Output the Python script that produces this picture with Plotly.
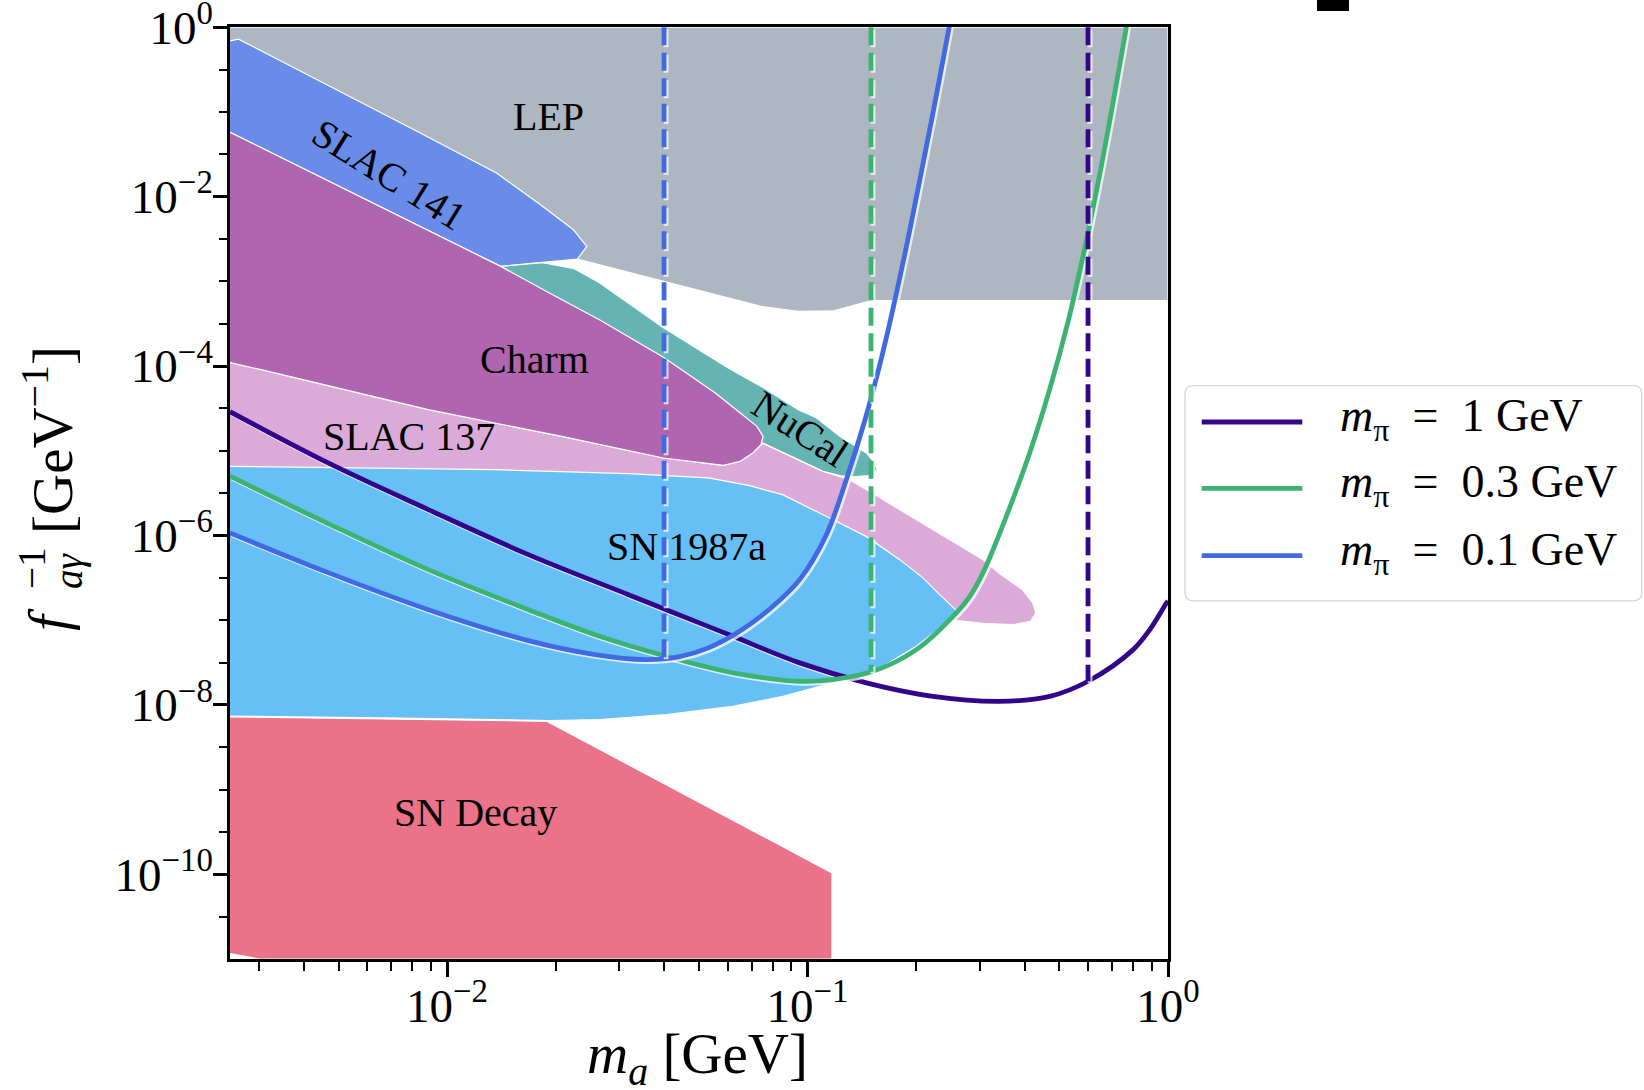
import numpy as np
import plotly.graph_objects as go

FONT = "Liberation Serif"

# ---------------------------------------------------------------------------
# Excluded regions in the (m_a [GeV], f_{a gamma}^{-1} [GeV^-1]) plane,
# each traced as a closed outline.
# ---------------------------------------------------------------------------
lep_m = [2.5e-3, 1.0, 1.0, 0.150, 0.1182, 0.0943, 0.0743, 0.0230, 2.5e-3]
lep_g = [1.0, 1.0, 5.9e-4, 5.9e-4, 4.49e-4, 4.41e-4, 5.05e-4, 1.83e-3, 1.83e-3]

slac141_m = [2.5e-3, 2.64e-3, 8.43e-3, 1.375e-2, 1.844e-2, 2.242e-2, 2.443e-2,
             2.30e-2, 1.409e-2, 2.5e-3]
slac141_g = [0.69, 0.722, 0.0562, 0.0189, 7.64e-3, 4.06e-3, 2.58e-3,
             1.83e-3, 1.50e-3, 0.0575]

slac137_m = [2.5e-3, 3.05e-3, 8.87e-3, 0.0208, 0.03985, 0.0585, 0.0705, 0.0752,
             0.1105, 0.1309, 0.1619, 0.2004, 0.2480, 0.3069, 0.3415, 0.3945,
             0.4216, 0.4295, 0.4160, 0.3741, 0.3108, 0.2610, 2.5e-3]
slac137_g = [1.10e-4, 9.05e-5, 3.05e-5, 1.48e-5, 8.21e-6, 6.72e-6, 9.41e-6, 1.23e-5,
             5.71e-6, 4.55e-6, 2.65e-6, 1.54e-6, 8.92e-7, 5.18e-7, 3.54e-7, 2.29e-7,
             1.60e-7, 1.22e-7, 9.69e-8, 8.86e-8, 9.11e-8, 9.88e-8, 4.55e-6]

nucal_m = [0.01409, 0.01844, 0.02256, 0.02647, 0.03985, 0.0601, 0.0763, 0.0943,
           0.1058, 0.1229, 0.1456, 0.1536, 0.1561, 0.1480, 0.1332, 0.1229,
           0.1105, 0.0752]
nucal_g = [1.50e-3, 1.66e-3, 1.41e-3, 9.61e-4, 2.83e-4, 9.55e-5, 5.40e-5, 3.05e-5,
           2.45e-5, 1.48e-5, 9.41e-6, 7.17e-6, 5.98e-6, 5.08e-6, 4.90e-6, 5.08e-6,
           5.71e-6, 1.23e-5]

charm_m = [2.5e-3, 0.01409, 0.01923, 0.02647, 0.03985, 0.0555, 0.0651, 0.0724,
           0.0753, 0.0743, 0.0705, 0.0651, 0.0585, 0.03985, 0.0208, 8.87e-3,
           3.05e-3, 2.5e-3]
charm_g = [0.0575, 1.50e-3, 7.27e-4, 3.52e-4, 1.27e-4, 4.80e-5, 2.79e-5, 1.94e-5,
           1.48e-5, 1.18e-5, 9.41e-6, 7.49e-6, 6.72e-6, 8.21e-6, 1.48e-5, 3.05e-5,
           9.05e-5, 1.10e-4]

sn1987a_m = [2.5e-3, 5.79e-3, 0.01359, 0.03186, 0.0531, 0.0691, 0.0853, 0.1174,
             0.1459, 0.1802, 0.2087, 0.2326, 0.2610, 0.2428, 0.2004, 0.1619,
             0.1176, 0.0855, 0.0621, 0.04055, 0.02647, 0.01923, 7.37e-3, 2.5e-3]
sn1987a_g = [6.54e-6, 6.26e-6, 5.98e-6, 5.36e-6, 4.77e-6, 3.87e-6, 3.03e-6, 1.54e-6,
             9.68e-7, 5.18e-7, 3.18e-7, 2.00e-7, 1.26e-7, 9.28e-8, 4.91e-8, 2.85e-8,
             1.82e-8, 1.26e-8, 9.63e-9, 7.68e-9, 6.71e-9, 6.53e-9, 6.99e-9, 7.38e-9]

sndecay_m = [2.5e-3, 0.0189, 0.1169, 0.1169, 3.01e-3, 2.5e-3]
sndecay_g = [7.22e-9, 6.40e-9, 1.04e-10, 1e-11, 1e-11, 1.16e-11]

# ---------------------------------------------------------------------------
# Projected reach for three pion masses
# ---------------------------------------------------------------------------
reach_1_m = [2.5e-3, 4.68e-3, 8.87e-3, 0.01681, 0.03186, 0.04055, 0.0621, 0.0951,
             0.1456, 0.2229, 0.3415, 0.4700, 0.6003, 0.8006, 0.8906, 0.991, 1.0]
reach_1_g = [2.89e-5, 7.17e-6, 2.02e-6, 5.94e-7, 2.00e-7, 1.33e-7, 6.45e-8, 3.13e-8,
             1.82e-8, 1.26e-8, 1.10e-8, 1.26e-8, 1.90e-8, 4.49e-8, 7.74e-8, 1.60e-7,
             1.68e-7]

reach_03_m = [2.5e-3, 4.68e-3, 8.87e-3, 0.01681, 0.02647, 0.04055, 0.0621,
              0.0951, 0.1176, 0.1519, 0.2004, 0.2588, 0.2818, 0.3069, 0.3487,
              0.4133, 0.4722, 0.5297, 0.5837, 0.6368, 0.6902, 0.7665, 0.7745]
reach_03_g = [5.01e-6, 1.38e-6, 3.95e-7, 1.33e-7, 6.45e-8, 3.75e-8, 2.39e-8,
              1.90e-8, 1.99e-8, 2.49e-8, 4.49e-8, 1.22e-7, 1.90e-7, 3.64e-7, 1.34e-6,
              9.41e-6, 5.74e-5, 3.52e-4, 2.15e-3, 0.01316, 0.0806, 1.0, 1.26]

reach_01_m = [2.5e-3, 4.68e-3, 8.87e-3, 0.01681, 0.02576, 0.03545, 0.04386, 0.0531,
              0.0648, 0.0802, 0.0951, 0.1128, 0.1281, 0.1444, 0.1574, 0.1699,
              0.1864, 0.2015, 0.2210, 0.2472, 0.2496]
reach_01_g = [1.07e-6, 3.64e-7, 1.33e-7, 5.74e-8, 3.92e-8, 3.42e-8, 3.68e-8, 4.71e-8,
              7.39e-8, 1.46e-7, 3.01e-7, 1.02e-6, 4.55e-6, 2.32e-5, 9.05e-5, 3.52e-4,
              2.15e-3, 0.0110, 0.0806, 1.0, 1.26]

pion_masses = ["1", "0.3", "0.1"]
reach_colors = ["#33058a", "#3cb371", "#4169e1"]
threshold_m = [0.6, 0.15, 0.04]          # vertical dashed kinematic limits
reach_m = [reach_1_m, reach_03_m, reach_01_m]
reach_g = [reach_1_g, reach_03_g, reach_01_g]

# Region labels
label_text = ["LEP", "SLAC 141", "Charm", "NuCal", "SLAC 137", "SN 1987a", "SN Decay"]
label_m = [0.0191, 6.89e-3, 0.01747, 0.0951, 7.85e-3, 0.04614, 0.01198]
label_g = [0.0881, 0.0181, 1.19e-4, 1.82e-5, 1.48e-5, 7.44e-7, 5.36e-10]
label_angle = [0, 32, 0, 33, 0, 0, 0]

# Axis ticks
x_tick_vals = [1e-2, 1e-1, 1.0]
x_tick_text = ["10<sup>−2</sup>", "10<sup>−1</sup>", "10<sup>0</sup>"]
y_tick_vals = [1.0, 1e-2, 1e-4, 1e-6, 1e-8, 1e-10]
y_tick_text = ["10<sup>0</sup>", "10<sup>−2</sup>", "10<sup>−4</sup>",
               "10<sup>−6</sup>", "10<sup>−8</sup>", "10<sup>−10</sup>"]

# ---------------------------------------------------------------------------
W, H = 1644, 1090
ML, MR, MT, MB = 230, 476, 27, 131
X_RANGE = [np.log10(2.5e-3), 0.0]
Y_RANGE = [-11.0, 0.002]
PX_PER_DEC_X = (W - ML - MR) / (X_RANGE[1] - X_RANGE[0])
PX_PER_DEC_Y = (H - MT - MB) / (Y_RANGE[1] - Y_RANGE[0])

# light offset stroke drawn under every line (2 px right, 2 px down)
SHADOW_X = 10 ** (2.0 / PX_PER_DEC_X)
SHADOW_Y = 10 ** (-2.0 / PX_PER_DEC_Y)
LW = 4.8

fig = go.Figure()

regions = [
    (lep_m, lep_g, "#adb6c1"),
    (slac141_m, slac141_g, "#688ce8"),
    (slac137_m, slac137_g, "#dcaad9"),
    (nucal_m, nucal_g, "#66b3b3"),
    (charm_m, charm_g, "#b065b0"),
    (sn1987a_m, sn1987a_g, "#67c0f5"),
    (sndecay_m, sndecay_g, "#ea7289"),
]
for m, g, col in regions:
    fig.add_trace(go.Scatter(x=m, y=g, mode="lines", fill="toself", fillcolor=col,
                             line=dict(color="white", width=1.2),
                             hoverinfo="skip", showlegend=False))


def add_line(m, g, color, dash=None, smooth=True):
    m = np.asarray(m, dtype=float)
    g = np.asarray(g, dtype=float)
    shape = "spline" if smooth else "linear"
    fig.add_trace(go.Scatter(x=m * SHADOW_X, y=g * SHADOW_Y, mode="lines",
                             line=dict(color="rgba(255,255,255,0.75)", width=LW,
                                       shape=shape, smoothing=1.0, dash=dash),
                             hoverinfo="skip", showlegend=False))
    fig.add_trace(go.Scatter(x=m, y=g, mode="lines",
                             line=dict(color=color, width=LW, shape=shape,
                                       smoothing=1.0, dash=dash),
                             hoverinfo="skip", showlegend=False))


for m, g, col in zip(reach_m, reach_g, reach_colors):
    add_line(m, g, col)

# dashed verticals from the top of the frame down to each reach curve
for m, g, col, mt in zip(reach_m, reach_g, reach_colors, threshold_m):
    g_end = 10 ** np.interp(np.log10(mt), np.log10(m), np.log10(g))
    add_line([mt, mt], [1.0, g_end], col, dash="18px,7.5px", smooth=False)

# region labels
for txt, m, g, ang in zip(label_text, label_m, label_g, label_angle):
    fig.add_annotation(x=np.log10(m), y=np.log10(g), xref="x", yref="y", text=txt,
                       showarrow=False, textangle=ang, xanchor="center", yanchor="middle",
                       font=dict(family=FONT, size=40, color="black"))


def px(x):
    return (x - ML) / (W - ML - MR)


def py(y):
    return (H - MB - y) / (H - MT - MB)


# axis titles
fig.add_annotation(x=px(697), y=py(1058), xref="paper", yref="paper",
                   text="<i>m</i><sub><i>a</i></sub> [GeV]", showarrow=False,
                   xanchor="center", yanchor="middle",
                   font=dict(family=FONT, size=57, color="black"))
ytitle_parts = [
    ("<i>f</i>", 48, 620, 57),
    ("−1", 31, 568, 39),
    ("<i>aγ</i>", 69, 571, 39),
    ("[GeV<sup>−1</sup>]", 48, 440, 57),
]
for txt, xx, yy, sz in ytitle_parts:
    fig.add_annotation(x=px(xx), y=py(yy), xref="paper", yref="paper", text=txt,
                       showarrow=False, textangle=-90, xanchor="center", yanchor="middle",
                       font=dict(family=FONT, size=sz, color="black"))

# legend
def rounded_rect(x0, y0, x1, y1, r):
    rx, ry = px(x0 + r) - px(x0), py(y0) - py(y0 + r)
    X0, X1, Y0, Y1 = px(x0), px(x1), py(y1), py(y0)
    return (f"M{X0 + rx},{Y0} L{X1 - rx},{Y0} Q{X1},{Y0} {X1},{Y0 + ry} "
            f"L{X1},{Y1 - ry} Q{X1},{Y1} {X1 - rx},{Y1} L{X0 + rx},{Y1} "
            f"Q{X0},{Y1} {X0},{Y1 - ry} L{X0},{Y0 + ry} Q{X0},{Y0} {X0 + rx},{Y0} Z")


fig.add_shape(type="path", xref="paper", yref="paper",
              path=rounded_rect(1185, 385.6, 1641.7, 600.8, 8),
              fillcolor="rgba(255,255,255,0.85)", line=dict(color="#d6d6d6", width=1.3))
legend_rows_y = [422, 488.4, 555.6]
for mp, col, ly in zip(pion_masses, reach_colors, legend_rows_y):
    fig.add_shape(type="line", xref="paper", yref="paper",
                  x0=px(1201.7), x1=px(1302.3), y0=py(ly), y1=py(ly),
                  line=dict(color=col, width=LW))
    fig.add_annotation(x=px(1338), y=py(ly - 3), xref="paper", yref="paper",
                       text=f"<i>m</i><sub>π</sub>\u2002=\u2002{mp} GeV", showarrow=False,
                       xanchor="left", yanchor="middle",
                       font=dict(family=FONT, size=46, color="black"))

# clipped glyph fragment at the top edge
fig.add_shape(type="rect", xref="paper", yref="paper",
              x0=px(1317), x1=px(1349), y0=py(11), y1=py(-2),
              fillcolor="black", line=dict(width=0))

x_minor = [k * 10.0 ** e for e in (-3, -2, -1) for k in range(2, 10)
           if 2.5e-3 < k * 10.0 ** e < 1.0]
y_minor = [10.0 ** (-h / 2) for h in range(1, 22) if h % 4 != 0]

axis_common = dict(type="log", showgrid=False, zeroline=False, showline=True,
                   linecolor="black", linewidth=2.5, mirror=True, ticks="outside",
                   tickcolor="black", tickwidth=2.5, ticklabeloverflow="allow",
                   automargin=False,
                   tickfont=dict(family=FONT, size=47, color="black"))
fig.update_xaxes(range=X_RANGE, tickvals=x_tick_vals, ticktext=x_tick_text, ticklen=15,
                 ticklabelstandoff=-11,
                 minor=dict(tickmode="array", tickvals=x_minor, ticks="outside",
                            ticklen=9.5, tickwidth=2, tickcolor="black", showgrid=False),
                 **axis_common)
fig.update_yaxes(range=Y_RANGE, tickvals=y_tick_vals, ticktext=y_tick_text, ticklen=14,
                 ticklabelstandoff=-9,
                 minor=dict(tickmode="array", tickvals=y_minor, ticks="outside",
                            ticklen=8.5, tickwidth=2, tickcolor="black", showgrid=False),
                 **axis_common)

fig.update_layout(width=W, height=H, margin=dict(l=ML, r=MR, t=MT, b=MB, autoexpand=False),
                  paper_bgcolor="white", plot_bgcolor="white", showlegend=False,
                  font=dict(family=FONT, color="black"))

fig.write_html("out.html")
